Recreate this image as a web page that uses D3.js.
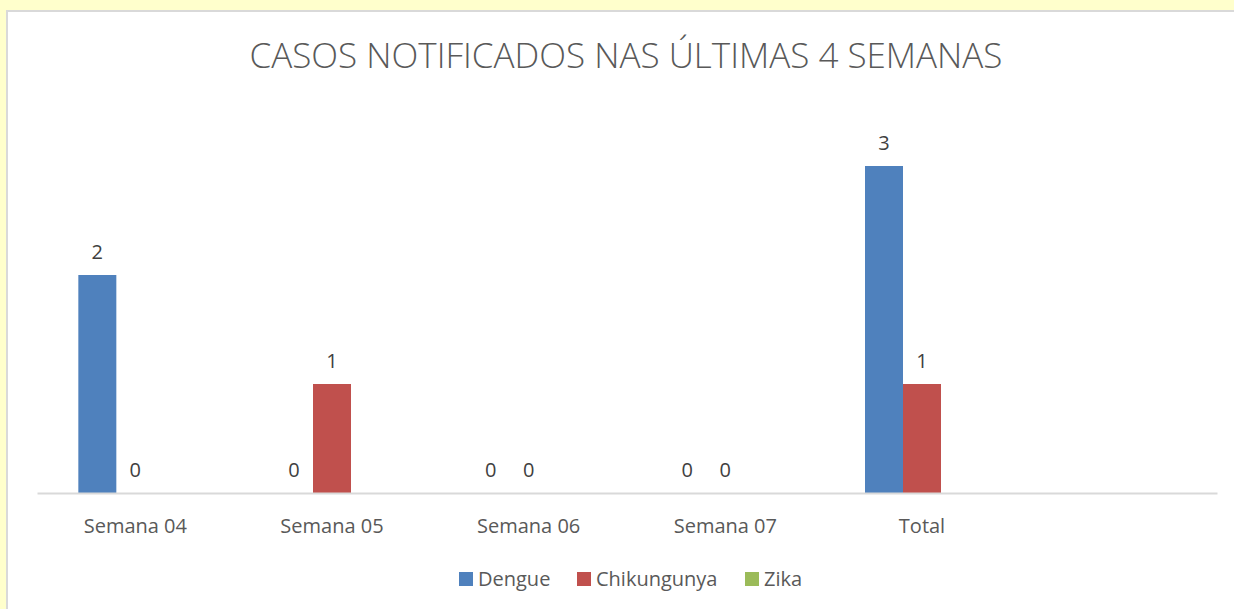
<!DOCTYPE html>
<html>
<head>
<meta charset="utf-8">
<script src="https://cdn.jsdelivr.net/npm/d3@7"></script>
<style>
  html, body { margin: 0; padding: 0; background: #ffffcc; }
  svg { display: block; }
</style>
</head>
<body>
<svg id="chart" width="1234" height="609"></svg>
<script>
// data
const categories = ['Semana 04', 'Semana 05', 'Semana 06', 'Semana 07', 'Total', ''];
const seriesNames = ['Dengue', 'Chikungunya', 'Zika'];
const dengue = [2, 0, 0, 0, 3, null];
const chikungunya = [0, 1, 0, 0, 1, null];
const zika = [null, null, null, null, null, null];
const colors = ['#4f81bd', '#c0504d', '#9bbb59'];

const values = [dengue, chikungunya, zika];

const svg = d3.select('#chart');
const font = "'Open Sans', 'Noto Sans', sans-serif";

// white chart panel
svg.append('rect')
  .attr('x', 7).attr('y', 11)
  .attr('width', 1240).attr('height', 620)
  .attr('fill', '#fff')
  .attr('stroke', '#d9d9d9')
  .attr('stroke-width', 2);

svg.append('text')
  .attr('x', 626).attr('y', 68)
  .attr('text-anchor', 'middle')
  .attr('font-family', font)
  .attr('font-size', 35)
  .attr('font-weight', 300)
  .attr('fill', '#595959')
  .text('CASOS NOTIFICADOS NAS ÚLTIMAS 4 SEMANAS');

let x = d3.scaleBand()
  .domain(categories)
  .range([37, 1217]);

let xs = d3.scaleBand()
  .domain(seriesNames)
  .range([0, 114]);

let y = d3.scaleLinear()
  .domain([0, 3])
  .range([493, 166]);

// bars
seriesNames.forEach((name, si) => {
  const g = svg.append('g');
  const rows = categories.map((c, i) => ({c: c, v: values[si][i]})).filter(d => d.v !== null);
  g.selectAll('rect')
    .data(rows)
    .join('rect')
    .attr('x', d => x(d.c) + x.bandwidth() / 2 - 57 + xs(name))
    .attr('width', xs.bandwidth())
    .attr('y', d => y(d.v))
    .attr('height', d => y(0) - y(d.v))
    .attr('fill', colors[si]);
  g.selectAll('text')
    .data(rows)
    .join('text')
    .attr('x', d => x(d.c) + x.bandwidth() / 2 - 57 + xs(name) + xs.bandwidth() / 2)
    .attr('y', d => y(d.v) - 16)
    .attr('text-anchor', 'middle')
    .attr('font-family', font)
    .attr('font-size', 20)
    .attr('fill', '#404040')
    .text(d => d.v);
});

// axis
const xAxis = svg.append('g')
  .attr('transform', `translate(0,${y(0)})`)
  .call(d3.axisBottom(x).tickSize(0).tickPadding(26));
xAxis.select('.domain').attr('stroke', '#d9d9d9').attr('stroke-width', 2);
xAxis.selectAll('text')
  .attr('font-family', font)
  .attr('font-size', 20)
  .attr('fill', '#595959');

// legend
const legendX = [459, 577, 745];
const legend = svg.append('g');
seriesNames.forEach((name, i) => {
  legend.append('rect')
    .attr('x', legendX[i]).attr('y', 572)
    .attr('width', 14).attr('height', 14)
    .attr('fill', colors[i]);
  legend.append('text')
    .attr('x', legendX[i] + 19).attr('y', 586)
    .attr('font-family', font)
    .attr('font-size', 20)
    .attr('fill', '#595959')
    .text(name);
});
</script>
</body>
</html>
